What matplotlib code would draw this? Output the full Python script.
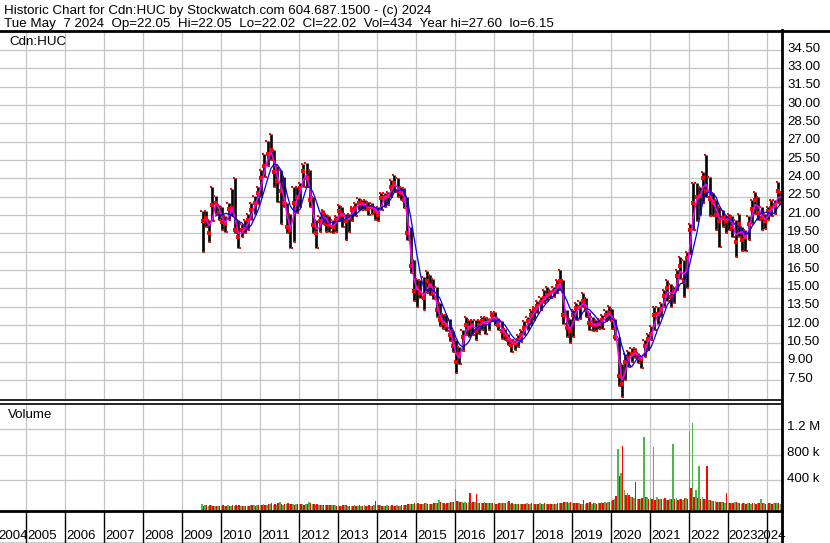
import numpy as np
import pandas as pd
import matplotlib
matplotlib.use('Agg')
import matplotlib.pyplot as plt
from matplotlib.lines import Line2D

plt.rcParams['font.family'] = ['Liberation Sans', 'DejaVu Sans']

# monthly bars, Jul 2009 .. May 2024
highs = [
    21.3, 21.3, 20.6, 23.3, 22.6, 21.8,                                      # 2009 Jul-Dec
    21.7, 20.9, 22.0, 23.1, 24.0, 20.6, 20.3, 20.6, 21.1, 22.0, 22.6, 23.3,  # 2010
    24.7, 26.0, 27.1, 27.6, 26.3, 25.0, 24.7, 24.1, 22.0, 21.1, 23.3, 23.3,  # 2011
    23.6, 25.2, 25.3, 24.7, 22.5, 20.6, 20.9, 21.4, 21.1, 20.9, 20.6, 20.9,  # 2012
    21.8, 21.7, 21.1, 21.1, 21.7, 22.0, 22.4, 22.2, 22.2, 22.1, 22.0, 21.7,  # 2013
    21.7, 22.8, 22.8, 22.9, 23.9, 24.3, 24.0, 23.3, 23.2, 22.5, 20.0, 17.3,  # 2014
    15.8, 15.7, 15.9, 16.4, 16.1, 15.8, 15.1, 13.8, 12.9, 12.8, 12.5, 11.5,  # 2015
    10.8, 10.2, 11.6, 12.7, 12.4, 12.4, 12.4, 12.4, 12.7, 12.7, 12.6, 13.1,  # 2016
    13.1, 12.6, 12.3, 11.7, 11.3, 10.9, 10.8, 11.2, 11.6, 12.3, 12.7, 13.2,  # 2017
    13.5, 14.0, 14.3, 14.9, 15.1, 14.9, 15.1, 15.7, 16.5, 15.7, 13.2, 12.5,  # 2018
    13.2, 13.8, 14.0, 14.6, 14.2, 13.1, 12.7, 12.4, 12.5, 12.8, 13.2, 13.6,  # 2019
    13.3, 12.5, 11.0, 8.8, 9.6, 9.9, 10.1, 10.1, 9.7, 9.5, 10.8, 11.3,       # 2020
    11.9, 13.5, 13.5, 13.8, 14.9, 15.7, 15.4, 15.1, 16.5, 17.6, 17.3, 18.0,  # 2021
    20.3, 23.6, 23.6, 23.3, 24.5, 25.9, 24.1, 22.8, 22.2, 21.7, 21.4, 20.9,  # 2022
    21.1, 20.9, 20.6, 21.1, 20.0, 19.8, 20.9, 22.2, 22.9, 22.5, 21.7, 21.1,  # 2023
    21.7, 22.2, 22.2, 23.7, 22.9,                                            # 2024 Jan-May
]
lows = [
    18.0, 20.0, 18.8, 20.5, 21.1, 20.6,
    19.8, 19.6, 20.6, 20.9, 19.5, 18.3, 19.2, 19.5, 19.8, 20.6, 21.1, 21.9,
    22.5, 24.1, 25.0, 25.5, 23.3, 22.1, 20.3, 21.7, 19.5, 18.3, 18.8, 21.2,
    21.7, 23.3, 23.3, 21.7, 19.5, 18.3, 19.6, 20.3, 19.6, 19.6, 19.5, 19.6,
    20.5, 20.0, 19.0, 19.6, 20.5, 20.9, 21.4, 21.4, 21.4, 21.0, 21.1, 20.6,
    20.5, 21.4, 21.7, 21.8, 22.5, 22.9, 22.5, 22.2, 21.6, 19.0, 16.3, 14.0,
    13.5, 14.2, 13.2, 14.6, 14.5, 14.1, 12.7, 11.9, 11.7, 11.5, 10.7, 9.8,
    8.1, 8.8, 9.9, 11.2, 11.0, 11.2, 10.8, 11.3, 11.6, 11.3, 11.6, 12.3,
    12.0, 11.6, 10.9, 10.8, 10.4, 9.8, 10.0, 10.2, 10.6, 11.2, 11.6, 12.0,
    12.4, 13.0, 13.2, 13.8, 14.0, 14.2, 14.3, 14.6, 14.9, 12.1, 11.0, 10.5,
    11.0, 12.4, 12.5, 13.5, 12.7, 11.6, 11.5, 11.5, 11.7, 11.7, 12.3, 12.4,
    11.7, 10.8, 7.0, 6.15, 7.5, 8.6, 9.0, 9.3, 8.9, 8.5, 9.4, 10.0,
    10.8, 11.6, 12.1, 12.7, 13.5, 14.0, 13.5, 13.8, 14.9, 15.8, 14.3, 15.0,
    17.8, 19.8, 20.5, 21.0, 22.0, 22.5, 20.9, 20.9, 19.8, 18.4, 20.0, 19.5,
    19.8, 19.2, 17.6, 19.2, 18.1, 18.1, 19.0, 20.3, 21.1, 20.6, 19.8, 19.9,
    20.6, 20.9, 21.1, 22.0, 22.0,
]
closes = [
    20.5, 20.8, 19.5, 21.8, 22.0, 21.2,
    20.4, 20.3, 21.5, 21.6, 19.8, 19.2, 19.8, 20.0, 20.6, 21.4, 22.0, 22.8,
    24.0, 25.0, 26.0, 26.3, 24.5, 23.8, 23.0, 22.0, 20.0, 19.8, 22.0, 22.5,
    23.2, 24.6, 24.0, 22.2, 20.2, 19.5, 20.5, 21.2, 20.3, 20.2, 20.0, 20.6,
    21.3, 21.0, 20.5, 20.8, 21.4, 21.6, 22.0, 21.9, 21.8, 21.5, 21.7, 21.3,
    21.0, 22.4, 22.5, 22.6, 23.3, 23.6, 23.0, 22.8, 22.2, 19.5, 16.8, 14.8,
    15.0, 14.6, 14.2, 15.6, 15.2, 14.6, 13.2, 12.4, 12.2, 12.0, 11.2, 10.3,
    9.0, 9.6, 11.0, 12.0, 11.8, 12.0, 11.5, 12.0, 12.3, 12.2, 12.3, 12.8,
    12.5, 12.0, 11.5, 11.2, 10.8, 10.4, 10.5, 10.8, 11.2, 11.8, 12.3, 12.8,
    13.2, 13.6, 13.9, 14.2, 14.5, 14.6, 14.8, 15.2, 15.6, 12.8, 11.8, 11.5,
    12.8, 13.4, 13.5, 14.0, 13.2, 12.2, 12.0, 12.0, 12.1, 12.4, 12.8, 13.0,
    12.4, 11.0, 7.8, 7.2, 9.0, 9.3, 9.6, 9.8, 9.3, 9.2, 10.3, 10.9,
    11.3, 12.8, 12.9, 13.3, 14.4, 15.0, 14.3, 14.8, 16.0, 16.8, 15.5, 17.5,
    19.8, 22.0, 22.5, 22.6, 24.0, 23.0, 22.3, 22.0, 21.0, 20.5, 20.8, 20.5,
    20.8, 20.0, 18.8, 20.3, 19.0, 19.2, 20.3, 21.5, 22.2, 21.2, 20.8, 20.5,
    21.3, 21.6, 21.8, 23.0, 22.02,
]

# volume, thousands of shares, largest week in each month
vol_up = [
    30, 25, 12, 18, 12, 10,
    10, 12, 15, 10, 12, 10, 8, 10, 12, 15, 18, 22,
    25, 30, 28, 35, 25, 22, 70, 25, 30, 35, 30, 40,
    35, 40, 30, 70, 30, 25, 20, 25, 20, 18, 20, 15,
    15, 12, 15, 12, 10, 15, 12, 10, 15, 12, 10, 15,
    20, 15, 12, 15, 10, 12, 15, 12, 18, 25, 30, 35,
    40, 35, 30, 45, 40, 35, 50, 105, 45, 40, 50, 60,
    275, 80, 60, 70, 65, 55, 60, 50, 45, 60, 55, 50,
    45, 40, 50, 45, 60, 40, 35, 30, 40, 35, 45, 40,
    35, 40, 45, 35, 30, 40, 35, 30, 45, 50, 60, 55,
    45, 50, 55, 40, 35, 45, 40, 50, 45, 60, 70, 65,
    90, 120, 890, 510, 250, 200, 150, 130, 110, 120, 1070, 150,
    130, 920, 140, 120, 110, 100, 120, 960, 130, 110, 100, 130,
    1160, 1290, 250, 620, 150, 120, 100, 90, 80, 70, 60, 55,
    50, 45, 60, 45, 40, 50, 45, 40, 45, 50, 120, 45,
    40, 50, 45, 55, 35,
]
vol_down = [
    10, 15, 18, 10, 12, 8,
    15, 10, 12, 15, 18, 15, 10, 12, 10, 15, 12, 18,
    22, 25, 30, 55, 40, 45, 35, 30, 50, 35, 28, 30,
    30, 25, 35, 45, 40, 35, 25, 20, 18, 15, 15, 12,
    12, 15, 18, 10, 12, 10, 15, 12, 10, 15, 12, 80,
    15, 12, 10, 12, 15, 10, 12, 15, 20, 35, 40, 45,
    55, 40, 45, 35, 40, 45, 55, 60, 50, 45, 60, 70,
    90, 70, 50, 55, 200, 60, 195, 55, 50, 55, 45, 50,
    40, 45, 50, 55, 90, 45, 40, 35, 30, 40, 35, 45,
    40, 35, 40, 45, 35, 30, 40, 45, 50, 65, 70, 60,
    50, 45, 40, 105, 50, 60, 45, 40, 50, 45, 55, 60,
    100, 160, 470, 935, 180, 170, 140, 370, 120, 130, 150, 120,
    110, 100, 120, 110, 130, 100, 110, 120, 100, 120, 130, 110,
    285, 150, 130, 110, 120, 620, 100, 90, 70, 65, 60, 210,
    55, 50, 60, 45, 50, 40, 45, 50, 40, 45, 50, 40,
    45, 40, 50, 45, 30,
]

years = list(range(2004, 2025))
price_ticks = np.arange(7.5, 34.6, 1.5)
vol_ticks = [400e3, 800e3, 1.2e6]
vol_labels = ['400 k', '800 k', '1.2 M']

header1 = 'Historic Chart for Cdn:HUC by Stockwatch.com 604.687.1500 - (c) 2024'
header2 = ('Tue May  7 2024  Op=22.05  Hi=22.05  Lo=22.02  Cl=22.02  '
           'Vol=434  Year hi=27.60  lo=6.15')

# ---- build frame ----
months = pd.date_range('2009-07-01', periods=len(closes), freq='MS')
x = months.year + (months.month - 1) / 12 + 1 / 24
df = pd.DataFrame({'x': x, 'hi': highs, 'lo': lows, 'cl': closes,
                   'vu': vol_up, 'vd': vol_down})
df['ma_fast'] = df['cl'].rolling(2).mean()
df['ma_slow'] = df['cl'].rolling(5).mean()

W, H = 830, 543
fig = plt.figure(figsize=(W / 100, H / 100), dpi=100)


def px_axes(x0, y0, x1, y1):
    ax = fig.add_axes([x0 / W, 1 - y1 / H, (x1 - x0) / W, (y1 - y0) / H])
    for s in ax.spines.values():
        s.set_visible(False)
    ax.tick_params(length=0, labelleft=False, labelbottom=False)
    return ax


def hline(y, x0, x1, lw):
    fig.add_artist(Line2D([x0 / W, x1 / W], [1 - y / H, 1 - y / H], color='black', lw=lw))


def vline(xp, y0, y1, lw):
    fig.add_artist(Line2D([xp / W, xp / W], [1 - y0 / H, 1 - y1 / H], color='black', lw=lw))


XL = (2004.346, 2024.397)
grid_c = '#c4c4c4'
fs = 9.5       # axis labels
fs_head = 9.6  # header lines

# price panel
ax = px_axes(0, 32, 782, 399)
ax.set_xlim(XL)
ax.set_ylim(5.95, 35.98)
ax.set_xticks(years[1:])
ax.set_yticks(price_ticks)
ax.grid(True, color=grid_c, lw=0.9)
ax.set_axisbelow(True)
ax.vlines(df['x'], df['lo'], df['hi'], color='black', lw=1.9)
ax.plot(df['x'], df['cl'], 's', color='#ff0000', ms=2.2, mew=0)
ax.plot(df['x'] - 0.03, df['hi'], 's', color='#ff0000', ms=1.8, mew=0)
ax.plot(df['x'] + 0.03, df['lo'], 's', color='#ff0000', ms=1.8, mew=0)
ax.plot(df['x'], df['ma_fast'], color='#ff00ff', lw=1.1)
ax.plot(df['x'], df['ma_slow'], color='#0000ff', lw=0.9)
ax.text(9 / 782, 1 - 13 / 367, 'Cdn:HUC', transform=ax.transAxes,
        fontsize=fs_head, va='baseline', ha='left')
for v in price_ticks:
    ax.text(1 + 5 / 782, v + 0.12, f'{v:.2f}', transform=ax.get_yaxis_transform(),
            fontsize=fs, va='center', ha='left', clip_on=False)

# volume panel
vx = px_axes(0, 404, 782, 509.5)
vx.set_xlim(XL)
vbot = -49e3
vx.set_ylim(vbot, 1.581e6)
vx.set_xticks(years[1:])
vx.set_yticks(vol_ticks)
vx.grid(True, color=grid_c, lw=0.9)
vx.set_axisbelow(True)
vx.bar(df['x'] - 0.02, df['vu'] * 1e3 - vbot, bottom=vbot, width=0.035,
       color='#4cb84c', lw=0)
vx.bar(df['x'] + 0.02, df['vd'] * 1e3 - vbot, bottom=vbot, width=0.035,
       color='#ff0000', lw=0)
vx.text(8 / 782, 1 - 14 / 105.5, 'Volume', transform=vx.transAxes,
        fontsize=fs_head, va='baseline', ha='left')
for v, lab in zip(vol_ticks, vol_labels):
    vx.text(1 + 5 / 782, v + 25e3, lab, transform=vx.get_yaxis_transform(),
            fontsize=fs, va='center', ha='left', clip_on=False)

# year strip
lx = px_axes(0, 511, 782, 543)
lx.set_xlim(XL)
lx.set_ylim(0, 1)
lx.vlines(years[1:], 0, 1, color='black', lw=1)
for yr in years:
    if yr == 2004:
        lx.text(-1.5 / 782, 0.14, str(yr), transform=lx.transAxes, fontsize=fs, ha='left', va='baseline')
    elif yr == 2024:
        lx.text(1 + 4 / 782, 0.14, str(yr), transform=lx.transAxes, fontsize=fs, ha='right', va='baseline')
    elif yr == 2023:
        lx.text(yr + 0.02, 0.14, str(yr), fontsize=fs, ha='left', va='baseline')
    else:
        lx.text(yr + 0.05, 0.14, str(yr), fontsize=fs, ha='left', va='baseline')

# header and frame lines
fig.text(4 / W, 1 - 14 / H, header1, fontsize=fs_head, ha='left', va='baseline')
fig.text(4 / W, 1 - 27 / H, header2, fontsize=fs_head, ha='left', va='baseline')
hline(31, 0, 830, 2)
hline(399.5, 0, 782, 1.2)
hline(403.5, 0, 782, 1.2)
hline(510.5, 0, 782, 2)
hline(542.5, 0, 782, 1)
vline(782, 30, 543, 2)

fig.savefig('out.png', dpi=100)
